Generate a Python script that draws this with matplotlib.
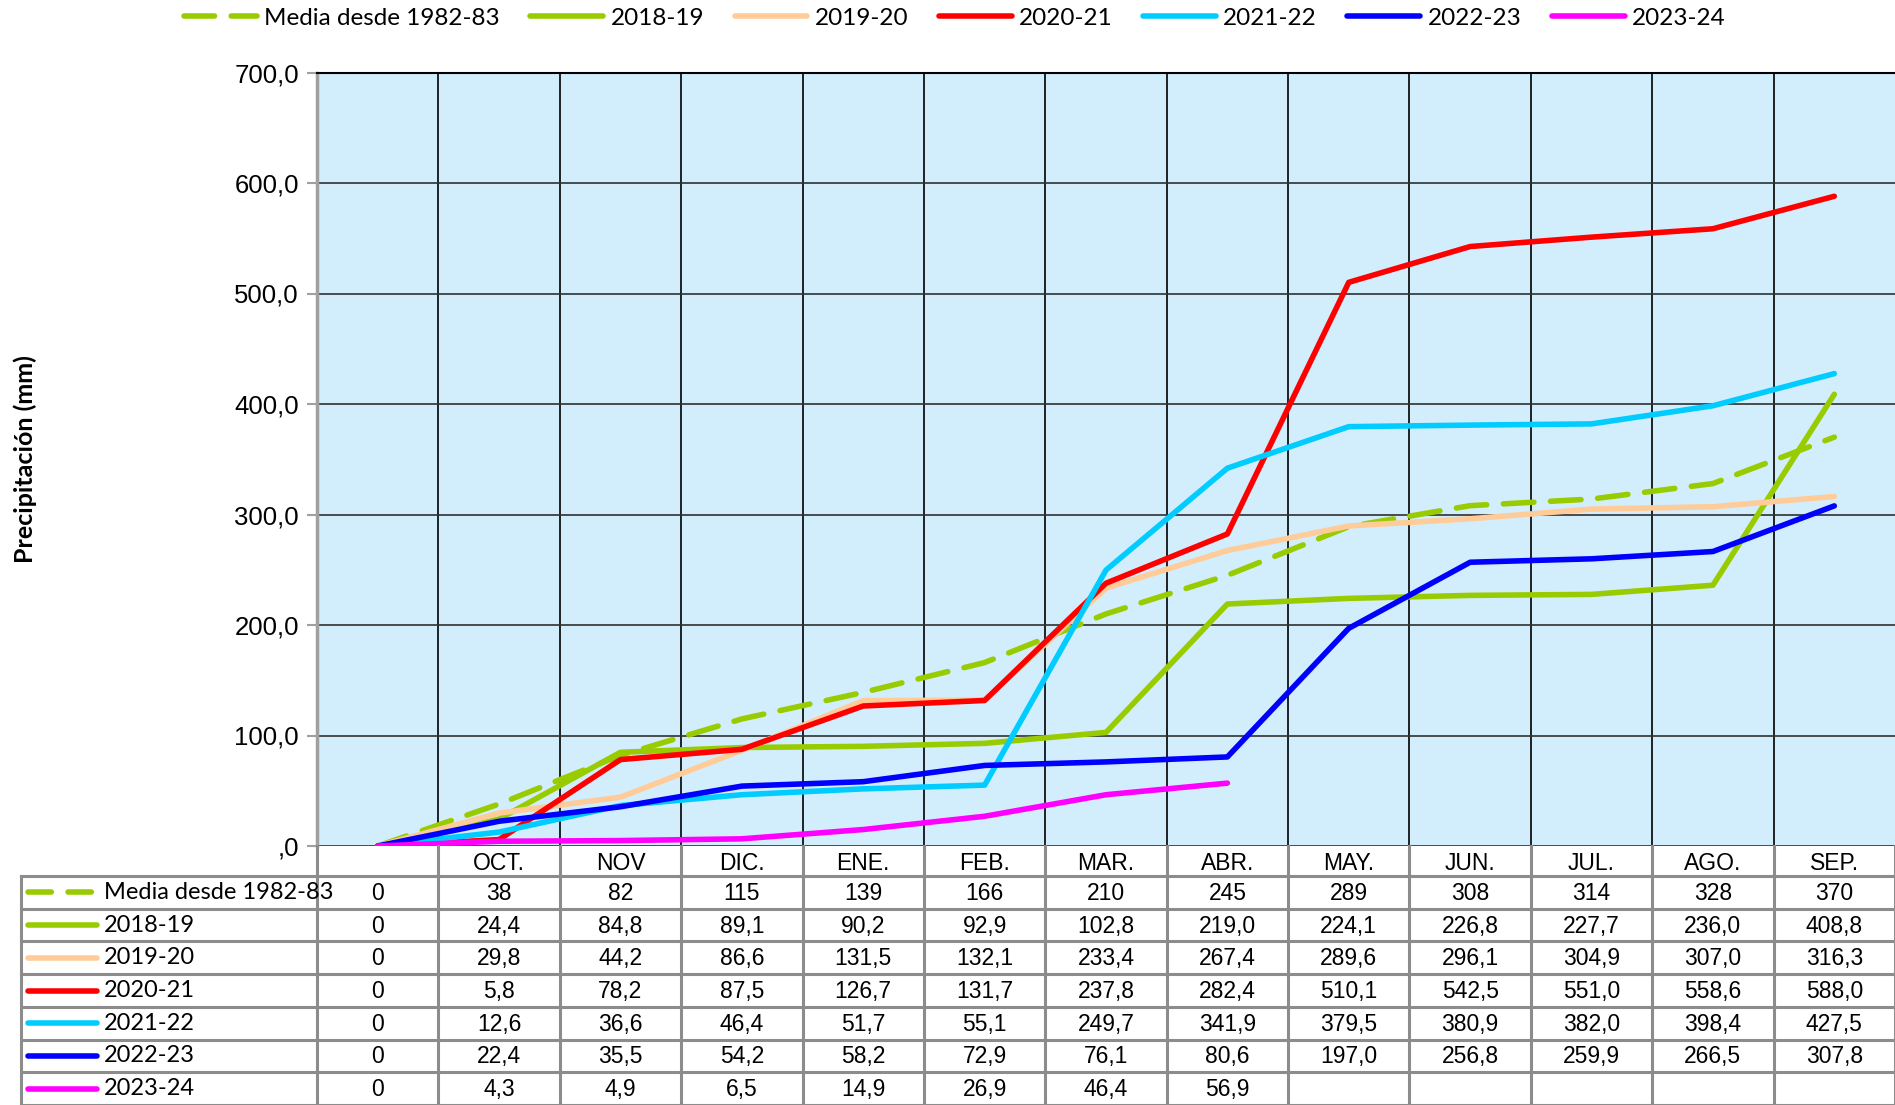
import matplotlib
matplotlib.use('Agg')
import matplotlib.pyplot as plt
from matplotlib.ticker import FuncFormatter, MultipleLocator

months = ['', 'OCT.', 'NOV', 'DIC.', 'ENE.', 'FEB.', 'MAR.', 'ABR.',
          'MAY.', 'JUN.', 'JUL.', 'AGO.', 'SEP.']

media = [0, 38, 82, 115, 139, 166, 210, 245, 289, 308, 314, 328, 370]
s1819 = [0, 24.4, 84.8, 89.1, 90.2, 92.9, 102.8, 219.0, 224.1, 226.8, 227.7, 236.0, 408.8]
s1920 = [0, 29.8, 44.2, 86.6, 131.5, 132.1, 233.4, 267.4, 289.6, 296.1, 304.9, 307.0, 316.3]
s2021 = [0, 5.8, 78.2, 87.5, 126.7, 131.7, 237.8, 282.4, 510.1, 542.5, 551.0, 558.6, 588.0]
s2122 = [0, 12.6, 36.6, 46.4, 51.7, 55.1, 249.7, 341.9, 379.5, 380.9, 382.0, 398.4, 427.5]
s2223 = [0, 22.4, 35.5, 54.2, 58.2, 72.9, 76.1, 80.6, 197.0, 256.8, 259.9, 266.5, 307.8]
s2324 = [0, 4.3, 4.9, 6.5, 14.9, 26.9, 46.4, 56.9]

names = ['Media desde 1982-83', '2018-19', '2019-20', '2020-21', '2021-22', '2022-23', '2023-24']
series = [media, s1819, s1920, s2021, s2122, s2223, s2324]
colors = ['#99CC00', '#99CC00', '#FFCC99', '#FF0000', '#00CCFF', '#0000FF', '#FF00FF']

narrow = ['Lato', 'DejaVu Sans']
plt.rcParams['font.family'] = ['Liberation Sans', 'DejaVu Sans']

W, H = 1895, 1105
fig = plt.figure(figsize=(W / 100, H / 100), dpi=100)

# plot area in pixels
pl, pr, pt, pb = 317, 1895, 72.5, 846
ax = fig.add_axes([pl / W, 1 - pb / H, (pr - pl) / W, (pb - pt) / H])
ax.set_facecolor('#D2EEFD')
ncol = len(months)
ax.set_xlim(-0.5, ncol - 0.5)
ax.set_ylim(0, 700)

lw = 4.0
handles = []
for name, vals, c in zip(names, series, colors):
    x = list(range(len(vals)))
    if name.startswith('Media'):
        h, = ax.plot(x, vals, color=c, lw=lw, dashes=(5.5, 3), solid_capstyle='round',
                     dash_capstyle='round', label=name, zorder=3)
    else:
        h, = ax.plot(x, vals, color=c, lw=lw, solid_capstyle='round', label=name, zorder=3)
    handles.append(h)

ax.yaxis.set_major_locator(MultipleLocator(100))
ax.yaxis.set_major_formatter(FuncFormatter(
    lambda v, p: ',0' if v == 0 else f'{v:.1f}'.replace('.', ',')))
ax.tick_params(axis='y', length=7, width=1.5, color='#A0A0A0', pad=6, labelsize=18.5)
ax.set_xticks([])
ax.grid(axis='y', color='#303030', lw=1.2, zorder=1)
for i in range(1, ncol):
    ax.axvline(i - 0.5, color='black', lw=1.2, zorder=1)
for s in ['right', 'bottom']:
    ax.spines[s].set_visible(False)
ax.spines['top'].set_color('black')
ax.spines['top'].set_linewidth(1.5)
ax.spines['left'].set_color('#A0A0A0')
ax.spines['left'].set_linewidth(2.5)
ax.set_ylabel('Precipitación (mm)', family=narrow, fontweight='bold', fontsize=18)
ax.yaxis.set_label_coords(-(pl - 37) / (pr - pl), 0.5)

# data table below the plot
tl = 20.5
colw = (pr - pl) / ncol
x0 = -0.5 - (pl - tl) / colw
tax = fig.add_axes([tl / W, 0, (W - tl) / W, (H - pb) / H])
tax.set_xlim(x0, ncol - 0.5)
th = H - pb
tax.set_ylim(th, 0)
tax.axis('off')
hdr = 30
rowh = (th - hdr) / len(names)
gc = '#8C8C8C'
for i in range(ncol + 1):
    tax.plot([i - 0.5, i - 0.5], [0, th], color=gc, lw=2.2, clip_on=False)
tax.plot([x0, x0], [hdr, th], color=gc, lw=2.2, clip_on=False)
for r in range(len(names) + 1):
    y = hdr + r * rowh
    tax.plot([x0, ncol - 0.5], [y, y], color=gc, lw=2.2, clip_on=False)
for i, m in enumerate(months):
    tax.text(i, hdr / 2 + 2, m, ha='center', va='center', fontsize=16.5)

def fmt(v, media_row):
    if media_row:
        return f'{v:.0f}'
    if v == 0:
        return '0'
    return f'{v:.1f}'.replace('.', ',')

for r, (name, vals, c) in enumerate(zip(names, series, colors)):
    yc = hdr + (r + 0.5) * rowh
    if name.startswith('Media'):
        tax.plot([x0 + 0.06, x0 + 0.63], [yc, yc], color=c, lw=lw,
                 dashes=(4.2, 3), dash_capstyle='round', clip_on=False)
    else:
        tax.plot([x0 + 0.06, x0 + 0.63], [yc, yc], color=c, lw=lw,
                 solid_capstyle='round', clip_on=False)
    tax.text(x0 + 0.685, yc, name, ha='left', va='center', family=narrow, fontsize=17)
    for i, v in enumerate(vals):
        tax.text(i, yc + 1, fmt(v, name.startswith('Media')), ha='center', va='center',
                 fontsize=16.5)

fig.legend(handles=handles, loc='center', bbox_to_anchor=(955 / W, 1 - 18 / H), ncol=7,
           frameon=False, prop={'family': narrow, 'size': 17.5}, handlelength=3.0,
           handletextpad=0.3, columnspacing=1.25)

fig.savefig('out.png', dpi=100)
